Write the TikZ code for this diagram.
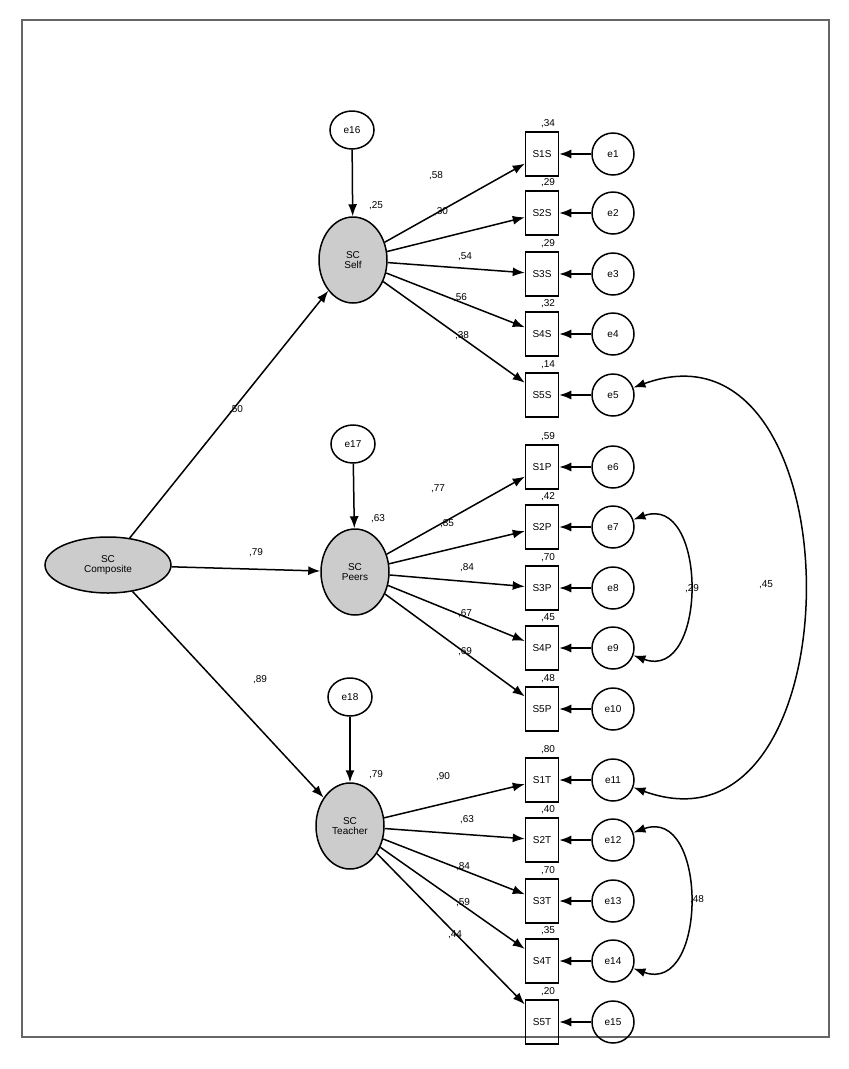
\documentclass[tikz,border=0pt]{standalone}
\usepackage{fontspec}
\setmainfont{Liberation Sans}
\usetikzlibrary{arrows.meta,shapes.geometric}
\begin{document}
\begin{tikzpicture}[x=1pt,y=-1pt,
  font=\fontsize{10}{10.5}\selectfont,
  obs/.style={draw,line width=1.5pt,minimum width=33pt,minimum height=44pt,inner sep=0pt},
  err/.style={draw,line width=1.5pt,circle,minimum size=42pt,inner sep=0pt},
  errl/.style={draw,line width=1.5pt,ellipse,minimum width=44pt,minimum height=38pt,inner sep=0pt},
  lat/.style={draw,line width=1.5pt,ellipse,fill=gray!40,minimum width=68pt,minimum height=86pt,align=center,inner sep=0pt},
  arr/.style={line width=1.5pt,-{Latex[length=12pt,width=9pt]}},
  cov/.style={line width=1.5pt,{Latex[length=12pt,width=9pt]}-{Latex[length=12pt,width=9pt]}},
  lab/.style={inner sep=0pt}]
\useasboundingbox (0,0) rectangle (849,1069);
\draw[line width=2pt,gray!80!black] (22,20) rectangle (829,1037);
% latents
\node[lat,minimum width=126pt,minimum height=56pt] (comp) at (108,565) {SC\\Composite};
\node[lat] (self) at (353,260) {SC\\Self};
\node[lat] (peers) at (355,572) {SC\\Peers};
\node[lat] (teach) at (350,826) {SC\\Teacher};
\node[errl] (e16) at (352,130) {e16};
\node[errl] (e17) at (353,444) {e17};
\node[errl] (e18) at (350,697) {e18};
\draw[arr] (e16) -- (self);
\draw[arr] (e17) -- (peers);
\draw[arr] (e18) -- (teach);
\draw[arr] (comp) -- (self);
\draw[arr] (comp) -- (peers);
\draw[arr] (comp) -- (teach);
\node[lab] (l1) at (236,410) {,50};
\node[lab] (l2) at (256,553) {,79};
\node[lab] (l3) at (260,680) {,89};
\node[lab] (r16) at (376,206) {,25};
\node[lab] (r17) at (378,519) {,63};
\node[lab] (r18) at (376,775) {,79};
% indicators
\foreach \n/\y/\lat/\ld/\lx/\ly/\r/\e in {
 {S1S/154/self/58/436/176/34/e1}, {S2S/213/self/30/441/212/29/e2}, {S3S/274/self/54/465/257/29/e3},
 {S4S/334/self/56/460/298/32/e4}, {S5S/395/self/38/462/336/14/e5},
 {S1P/467/peers/77/438/489/59/e6}, {S2P/527/peers/85/447/524/42/e7}, {S3P/588/peers/84/467/568/70/e8},
 {S4P/648/peers/67/465/614/45/e9}, {S5P/709/peers/69/465/652/48/e10},
 {S1T/780/teach/90/443/777/80/e11}, {S2T/840/teach/63/467/820/40/e12}, {S3T/901/teach/84/463/867/70/e13},
 {S4T/961/teach/59/463/903/35/e14}, {S5T/1022/teach/44/455/935/20/e15}}{
 \node[obs] (\n) at (542,\y) {\n};
 \node[err] (\e) at (613,\y) {\e};
 \node[lab] (r\n) at (548,\y-30) {,\r};
 \node[lab] (l\n) at (\lx,\ly) {,\ld};
 \draw[arr] (\lat) -- (\n);
 \draw[arr] (\e) -- (\n);
}
\draw[cov] (e5) to[out=20,in=-20,looseness=1.55] (e11);
\draw[cov] (e7) to[out=20,in=-20,looseness=1.5] (e9);
\draw[cov] (e12) to[out=20,in=-20,looseness=1.5] (e14);
\node[lab] (c1) at (766,585) {,45};
\node[lab] (c2) at (692,589) {,29};
\node[lab] (c3) at (697,900) {,48};
\end{tikzpicture}
\end{document}
